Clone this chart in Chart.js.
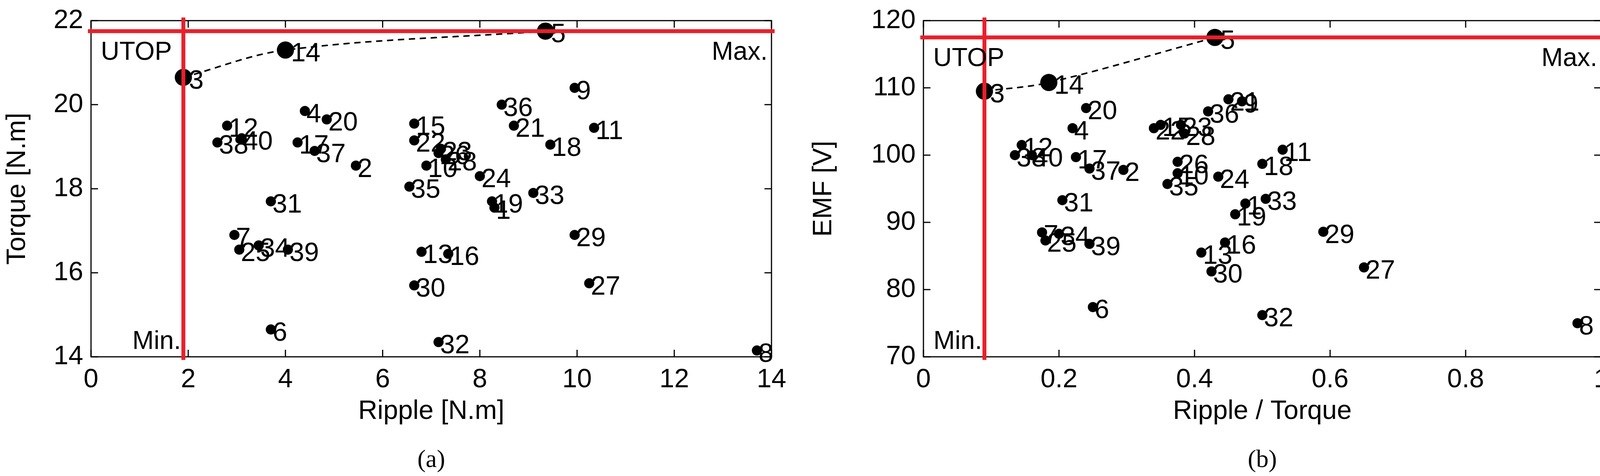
<!DOCTYPE html>
<html><head><meta charset="utf-8">
<script src="https://cdn.jsdelivr.net/npm/chart.js@4"></script>
<style>body{margin:0;background:#fff;width:4128px;height:1218px;display:flex}
.w{position:relative;width:2064px;height:1218px}</style></head>
<body><div class="w"><canvas id="a"></canvas></div><div class="w"><canvas id="b"></canvas></div>
<script>
const labelsA=['3','14','5','9','36','4','20','15','21','11','12','40','38','17','37','22','23','26','28','10','18','2','24','35','33','31','1','19','7','34','25','39','13','16','29','30','27','6','32','8'];
const rippleA=[1.9,4.0,9.35,9.95,8.45,4.4,4.85,6.65,8.7,10.35,2.8,3.1,2.6,4.25,4.6,6.65,7.2,7.15,7.3,6.9,9.45,5.45,8.0,6.55,9.1,3.7,8.3,8.25,2.95,3.45,3.05,4.05,6.8,7.35,9.95,6.65,10.25,3.7,7.15,13.7];
const torqueA=[20.65,21.3,21.75,20.4,20.0,19.85,19.65,19.55,19.5,19.45,19.5,19.2,19.1,19.1,18.9,19.15,18.95,18.85,18.7,18.55,19.05,18.55,18.3,18.05,17.9,17.7,17.55,17.7,16.9,16.65,16.55,16.55,16.5,16.45,16.9,15.7,15.75,14.65,14.35,14.15];
const labelsB=['3','14','5','20','4','21','9','36','15','22','23','28','12','38','40','17','37','2','11','18','26','10','35','24','33','1','19','31','7','34','25','39','16','13','30','29','27','6','32','8'];
const ratioB=[0.09,0.185,0.43,0.24,0.22,0.45,0.47,0.42,0.35,0.34,0.38,0.385,0.145,0.135,0.16,0.225,0.245,0.295,0.53,0.5,0.375,0.375,0.36,0.435,0.505,0.475,0.46,0.205,0.175,0.2,0.18,0.245,0.445,0.41,0.425,0.59,0.65,0.25,0.5,0.965];
const emfB=[109.5,110.8,117.5,107,104,108.3,108,106.5,104.5,104,104.5,103.2,101.5,100,100,99.7,98,97.8,100.8,98.7,99,97.3,95.7,96.8,93.5,92.8,91.2,93.3,88.5,88.3,87.3,86.8,87,85.5,82.7,88.6,83.3,77.4,76.2,75];
const F='"Liberation Sans", Arial, sans-serif';
function make(id,xs,ys,labs,xr,yr,xstep,ystep,xt,yt,cap,util,left,right){
 const pts=xs.map((x,i)=>({x,y:ys[i]}));
 const front=pts.slice(0,3);
 const deco={id:'deco',afterDatasetsDraw(c){
  const g=c.ctx,a=c.chartArea,sx=c.scales.x,sy=c.scales.y;
  g.save();g.strokeStyle='#000';g.lineWidth=3;g.strokeRect(a.left,a.top,a.right-a.left,a.bottom-a.top);
  for(let v=xr[0];v<=xr[1]+1e-9;v+=xstep){const p=sx.getPixelForValue(v);g.beginPath();g.moveTo(p,a.bottom);g.lineTo(p,a.bottom-18);g.moveTo(p,a.top);g.lineTo(p,a.top+18);g.stroke();}
  for(let v=yr[0];v<=yr[1]+1e-9;v+=ystep){const p=sy.getPixelForValue(v);g.beginPath();g.moveTo(a.left,p);g.lineTo(a.left+18,p);g.moveTo(a.right,p);g.lineTo(a.right-18,p);g.stroke();}
  g.fillStyle='#000';g.font='68px '+F;g.textBaseline='middle';g.textAlign='left';
  pts.forEach((p,i)=>{g.fillText(labs[i],sx.getPixelForValue(p.x)+(i<3?14:4),sy.getPixelForValue(p.y)+10);});
  g.strokeStyle='#e8202a';g.lineWidth=10;
  const ux=sx.getPixelForValue(util[0]),uy=sy.getPixelForValue(util[1]);
  g.beginPath();g.moveTo(ux,a.top-8);g.lineTo(ux,a.bottom+8);g.moveTo(a.left-8,uy);g.lineTo(a.right+8,uy);g.stroke();
  g.font='66px '+F;g.textBaseline='top';g.textAlign='left';g.fillText('UTOP',a.left+25,uy+22);
  g.textAlign='right';g.fillText('Max.',a.right-10,uy+22);
  g.textBaseline='bottom';g.fillText('Min.',ux-6,a.bottom-5);
  g.font='64px "Liberation Serif", serif';g.textAlign='center';g.textBaseline='alphabetic';
  g.fillText(cap,(a.left+a.right)/2,1195);
  g.restore();}};
 new Chart(document.getElementById(id),{type:'scatter',
  data:{datasets:[
   {data:front,showLine:true,tension:0.35,borderColor:'#000',borderWidth:4,borderDash:[16,12],pointRadius:0},
   {data:pts,pointRadius:pts.map((p,i)=>i<3?22:13),backgroundColor:'#000',borderColor:'#000',pointBorderWidth:0}]},
  options:{responsive:false,animation:false,devicePixelRatio:1,
   layout:{padding:{left:0,right:right,top:47,bottom:120}},
   plugins:{legend:{display:false},tooltip:{enabled:false}},
   scales:{
    x:{type:'linear',min:xr[0],max:xr[1],afterFit(s){s.height=185;},
     ticks:{stepSize:xstep,color:'#000',font:{family:F,size:68},padding:10,maxRotation:0,callback:v=>String(+v.toFixed(2))},
     grid:{display:false},border:{display:false},
     title:{display:true,text:xt,color:'#000',font:{family:F,size:68},padding:{top:10}}},
    y:{type:'linear',min:yr[0],max:yr[1],afterFit(s){s.width=left;},
     ticks:{stepSize:ystep,color:'#000',font:{family:F,size:68},padding:12},
     grid:{display:false},border:{display:false},
     title:{display:true,text:yt,color:'#000',font:{family:F,size:68}}}}},
  plugins:[deco]});
}
for(const id of ['a','b']){const c=document.getElementById(id);c.width=2064;c.height=1218;}
make('a',rippleA,torqueA,labelsA,[0,14],[14,22],2,2,'Ripple [N.m]','Torque [N.m]','(a)',[1.9,21.75],233,89);
make('b',ratioB,emfB,labelsB,[0,1],[70,120],0.2,10,'Ripple / Torque','EMF [V]','(b)',[0.09,117.5],300,23);
</script></body></html>
